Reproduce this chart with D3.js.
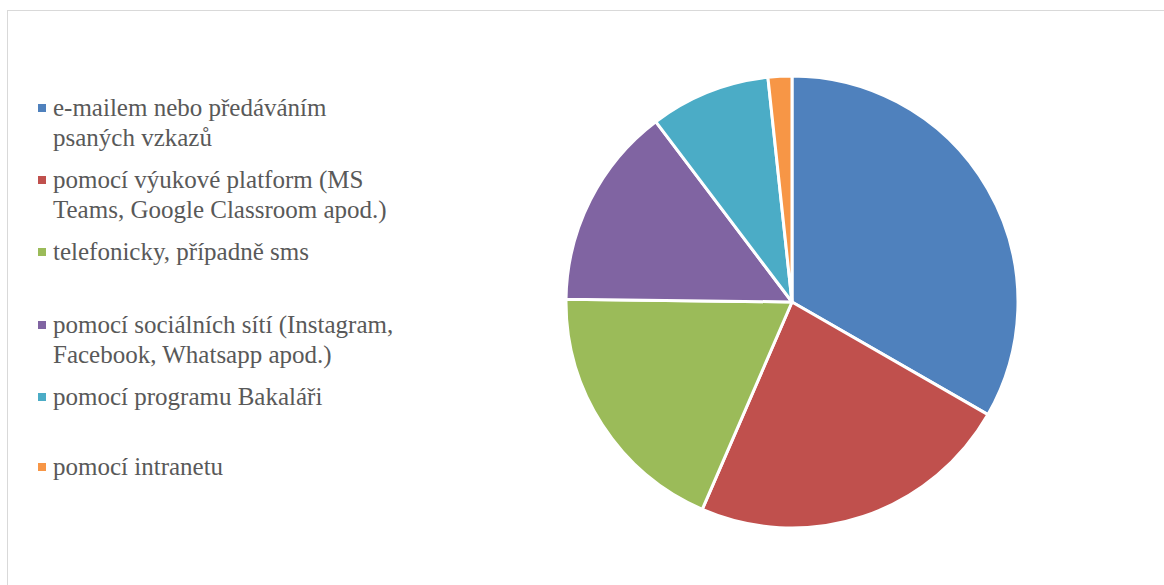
<!DOCTYPE html>
<html>
<head>
<meta charset="utf-8">
<script src="https://cdn.jsdelivr.net/npm/d3@7"></script>
<style>
  body { margin: 0; background: #fff; }
  #chart { position: relative; width: 1164px; height: 585px; }
  svg { display: block; position: absolute; left: 0; top: 0; }
  .lg { position: absolute; left: 53px; font-family: "Liberation Serif", serif; font-size: 25px;
        line-height: 30px; color: #595959; white-space: nowrap; }
  .mk { position: absolute; left: 38px; width: 8px; height: 8px; }
</style>
</head>
<body>
<div id="chart"></div>
<script>
// categories and shares
var categories = [
    ["e-mailem nebo předáváním", "psaných vzkazů"],
    ["pomocí výukové platform (MS", "Teams, Google Classroom apod.)"],
    ["telefonicky, případně sms"],
    ["pomocí sociálních sítí (Instagram,", "Facebook, Whatsapp apod.)"],
    ["pomocí programu Bakaláři"],
    ["pomocí intranetu"]
];
var values = [33.3, 23.2, 18.7, 14.5, 8.6, 1.7];
var colors = ["#4F81BD", "#C0504D", "#9BBB59", "#8064A2", "#4BACC6", "#F79646"];

// legend row centre positions (first line of each entry)
var legendY = [108, 180, 252, 325, 397, 467];

var width = 1164, height = 585;

var chart = d3.select("#chart");

var svg = chart.append("svg")
    .attr("width", width)
    .attr("height", height);

// chart frame
svg.append("rect")
    .attr("x", 7.5)
    .attr("y", 10.5)
    .attr("width", 1170)
    .attr("height", 600)
    .attr("fill", "none")
    .attr("stroke", "#d9d9d9")
    .attr("stroke-width", 1);

var pie = d3.pie().sort(null).value(function(d) { return d; });
var arc = d3.arc().innerRadius(0).outerRadius(226);

var g = svg.append("g")
    .attr("transform", "translate(792,302)");

g.selectAll("path")
    .data(pie(values))
    .enter().append("path")
    .attr("d", arc)
    .attr("fill", function(d, i) { return colors[i]; })
    .attr("stroke", "#fff")
    .attr("stroke-width", 3)
    .attr("stroke-linejoin", "round");

// legend as html so the serif face is used
chart.selectAll("div.mk")
    .data(categories)
    .enter().append("div")
    .attr("class", "mk")
    .style("top", function(d, i) { return (legendY[i] - 4) + "px"; })
    .style("background", function(d, i) { return colors[i]; });

chart.selectAll("div.lg")
    .data(categories)
    .enter().append("div")
    .attr("class", "lg")
    .style("top", function(d, i) { return (legendY[i] - 15) + "px"; })
    .html(function(d) { return d.join("<br>"); });
</script>
</body>
</html>
